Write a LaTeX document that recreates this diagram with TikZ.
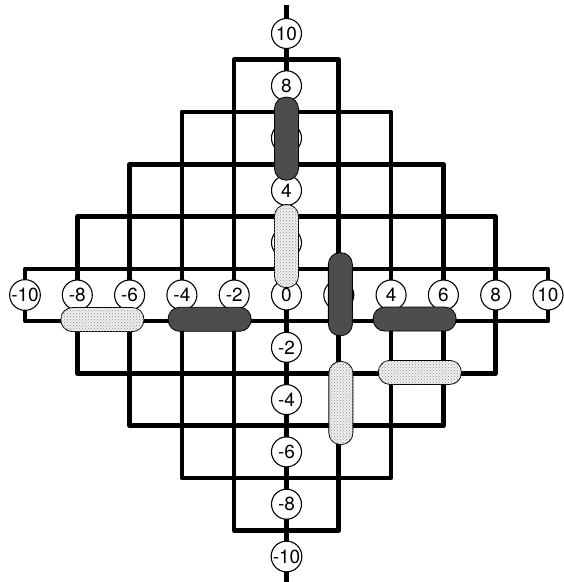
\documentclass[tikz,border=0pt]{standalone}
\usepackage{fontspec}
\setmainfont{TeX Gyre Heros}
\usetikzlibrary{positioning,patterns}
\definecolor{barfill}{HTML}{4D4D4D}

\tikzset{
  wire/.style={line width=4.6pt, line join=round},
  num/.style={circle, draw, fill=white, line width=1.1pt, minimum size=30pt,
              inner sep=0pt, font=\fontsize{19}{20}\selectfont},
  bar/.style={draw, line width=0.8pt, rounded corners=11.5pt, inner sep=0pt},
  hbar/.style={bar, minimum width=83pt, minimum height=24pt},
  vbar/.style={bar, minimum width=24pt, minimum height=83pt},
  darkbar/.style={fill=barfill},
  dotbar/.style={fill=gray!12, postaction={pattern=crosshatch dots, pattern color=gray!90}}
}

\begin{document}
\begin{tikzpicture}[x=26.15pt,y=26.15pt]
  \useasboundingbox (-286.5pt,-287pt) rectangle (277.5pt,295pt);

  % nested frames and the middle line
  \foreach \j in {2,4,...,10}
    \draw[wire] (-\j,{\j-11}) rectangle (\j,{11-\j});
  \draw[wire] (0,11.08) -- (0,-11.3);

  % numbered stations
  \foreach \k in {-10,-8,...,10}
    \node[num] (h\k) at (\k,0) {\k};
  \foreach \k in {-10,-8,-6,-4,-2,2,4,6,8,10}
    \node[num] (v\k) at (0,\k) {\k};

  % dark bars
  \node[vbar,darkbar] (d1) at (0,5.98) {};
  \node[hbar,darkbar] (d2) at (-2.94,-0.93) {};
  \node[vbar,darkbar] (d3) at (2.06,0.03) {};
  \node[hbar,darkbar] (d4) at (4.9,-0.92) {};

  % dotted bars
  \node[vbar,dotbar] (s1) at (0,1.87) {};
  \node[hbar,dotbar] (s2) at (-7.04,-0.94) {};
  \node[vbar,dotbar] (s3) at (2.08,-4.13) {};
  \node[hbar,dotbar] (s4) at (5.1,-2.96) {};
\end{tikzpicture}
\end{document}
